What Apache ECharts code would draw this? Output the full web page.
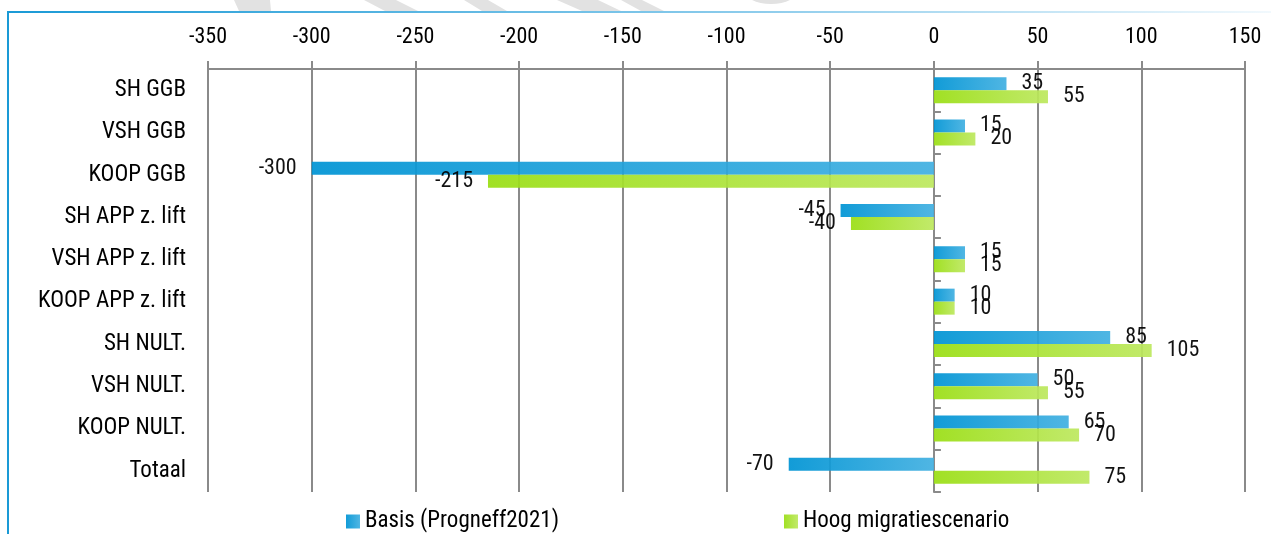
<!DOCTYPE html>
<html>
<head>
<meta charset="utf-8">
<script src="https://cdn.jsdelivr.net/npm/echarts@6/dist/echarts.min.js"></script>
<style>
html,body{margin:0;padding:0;background:#fff;}
#c{width:1271px;height:534px;}
</style>
</head>
<body>
<div id="c"></div>
<script>
const categories = ['SH GGB','VSH GGB','KOOP GGB','SH APP z. lift','VSH APP z. lift','KOOP APP z. lift','SH NULT.','VSH NULT.','KOOP NULT.','Totaal'];
const basisValues = [35, 15, -300, -45, 15, 10, 85, 50, 65, -70];
const hoogValues = [55, 20, -215, -40, 15, 10, 105, 55, 70, 75];
const seriesNames = ['Basis (Progneff2021)', 'Hoog migratiescenario'];
const xMin = -350, xMax = 150, xStep = 50;

const FONT = "'Liberation Sans Narrow', 'Roboto Condensed', 'DejaVu Sans Condensed', 'Roboto', sans-serif";

const chart = echarts.init(document.getElementById('c'), null, {renderer: 'canvas'});

function makeData(vals) {
  return vals.map(v => ({
    value: v,
    label: { position: v < 0 ? 'left' : 'right' }
  }));
}

const blueGrad = new echarts.graphic.LinearGradient(0, 0, 1, 0, [
  {offset: 0, color: '#0094d4'},
  {offset: 1, color: '#42b0e1'}
]);
const greenGrad = new echarts.graphic.LinearGradient(0, 0, 1, 0, [
  {offset: 0, color: '#9ade14'},
  {offset: 1, color: '#bde85f'}
]);

function shape(points) {
  return {type: 'polygon', shape: {points: points}, style: {fill: '#e2e2e2'}, silent: true, z: -1};
}

const option = {
  animation: false,
  textStyle: {fontFamily: FONT},
  grid: {left: 208, right: 26, top: 69, bottom: 42, containLabel: false},
  graphic: [
    shape([[234,0],[270,0],[271,11],[239,11]]),
    shape([[364,0],[396,0],[418,11],[385,11]]),
    shape([[464,0],[488,0],[507,11],[482,11]]),
    shape([[557,0],[598,0],[621,11],[582,11]]),
    shape([[621,0],[642,0],[664,11],[641,11]]),
    {type: 'ellipse', shape: {cx: 771, cy: -10, rx: 27, ry: 14}, style: {fill: '#e2e2e2'}, silent: true, z: -1},
    {type: 'line', shape: {x1: 8, y1: 12, x2: 1271, y2: 12}, silent: true,
      style: {lineWidth: 2, stroke: new echarts.graphic.LinearGradient(0, 0, 1, 0, [
        {offset: 0, color: '#1a9ad6'}, {offset: 0.6, color: '#8fcdec'}, {offset: 1, color: '#f2f9fd'}
      ], false)}},
    {type: 'line', shape: {x1: 8, y1: 11, x2: 8, y2: 534}, silent: true,
      style: {lineWidth: 2, stroke: '#1a9ad6'}}
  ],
  legend: [
    {data: [seriesNames[0]], left: 346, top: 510, padding: 0, itemWidth: 14, itemHeight: 14, itemGap: 5,
     icon: 'rect', textStyle: {fontSize: 23, color: '#000', fontFamily: FONT}},
    {data: [seriesNames[1]], left: 784, top: 510, padding: 0, itemWidth: 14, itemHeight: 14, itemGap: 5,
     icon: 'rect', textStyle: {fontSize: 23, color: '#000', fontFamily: FONT}}
  ],
  xAxis: {
    type: 'value', position: 'top', min: xMin, max: xMax, interval: xStep,
    axisLine: {show: true, onZero: false, lineStyle: {color: '#8a8a8a', width: 2}},
    axisTick: {show: true, length: 8, lineStyle: {color: '#8a8a8a', width: 2}},
    axisLabel: {fontSize: 22, color: '#000', margin: 21, fontFamily: FONT},
    splitLine: {show: true, lineStyle: {color: '#8a8a8a', width: 2}}
  },
  yAxis: [
    {
      type: 'category', data: categories, inverse: true,
      axisLine: {show: false, onZero: false},
      axisTick: {show: false},
      axisLabel: {fontSize: 23, color: '#000', margin: 22, fontFamily: FONT}
    },
    {
      type: 'category', data: categories, inverse: true,
      axisLine: {show: true, onZero: true, lineStyle: {color: '#8a8a8a', width: 2}},
      axisTick: {show: true, length: 7, lineStyle: {color: '#8a8a8a', width: 2}},
      axisLabel: {show: false}
    }
  ],
  series: [
    {
      name: seriesNames[0], type: 'bar', yAxisIndex: 0, barWidth: 13, barGap: '0%',
      itemStyle: {color: blueGrad, opacity: 0.93},
      label: {show: true, distance: 15, fontSize: 22, color: '#000', fontFamily: FONT},
      data: makeData(basisValues)
    },
    {
      name: seriesNames[1], type: 'bar', yAxisIndex: 0, barWidth: 13, barGap: '0%',
      itemStyle: {color: greenGrad, opacity: 0.93},
      label: {show: true, distance: 15, fontSize: 22, color: '#000', fontFamily: FONT},
      data: makeData(hoogValues)
    }
  ]
};
chart.setOption(option);
</script>
</body>
</html>
